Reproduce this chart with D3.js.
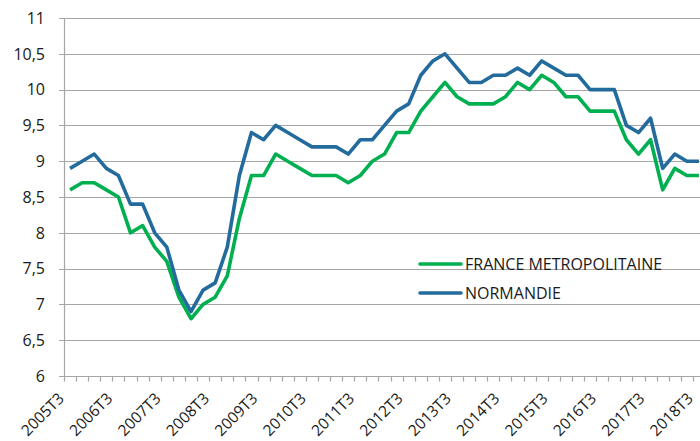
<!DOCTYPE html>
<html>
<head>
<meta charset="utf-8">
<script src="https://cdn.jsdelivr.net/npm/d3@7"></script>
<style>
  body { margin: 0; background: #fff; }
  svg { display: block; font-family: "Open Sans", sans-serif; }
</style>
</head>
<body>
<div id="chart"></div>
<script>
// quarters 2005T3 .. 2018T3
const quarters = [];
for (let y = 2005; y <= 2018; y++)
    for (let q = 1; q <= 4; q++)
        if (!(y === 2005 && q < 3) && !(y === 2018 && q > 3)) quarters.push(y + 'T' + q);

const france = [
    8.6, 8.7, 8.7, 8.6, 8.5, 8.0, 8.1, 7.8, 7.6, 7.1, 6.8, 7.0, 7.1, 7.4,
    8.2, 8.8, 8.8, 9.1, 9.0, 8.9, 8.8, 8.8, 8.8, 8.7, 8.8, 9.0, 9.1, 9.4,
    9.4, 9.7, 9.9, 10.1, 9.9, 9.8, 9.8, 9.8, 9.9, 10.1, 10.0, 10.2, 10.1, 9.9,
    9.9, 9.7, 9.7, 9.7, 9.3, 9.1, 9.3, 8.6, 8.9, 8.8, 8.8
];
const normandie = [
    8.9, 9.0, 9.1, 8.9, 8.8, 8.4, 8.4, 8.0, 7.8, 7.2, 6.9, 7.2, 7.3, 7.8,
    8.8, 9.4, 9.3, 9.5, 9.4, 9.3, 9.2, 9.2, 9.2, 9.1, 9.3, 9.3, 9.5, 9.7,
    9.8, 10.2, 10.4, 10.5, 10.3, 10.1, 10.1, 10.2, 10.2, 10.3, 10.2, 10.4, 10.3, 10.2,
    10.2, 10.0, 10.0, 10.0, 9.5, 9.4, 9.6, 8.9, 9.1, 9.0, 9.0
];
const yTicks = [6, 6.5, 7, 7.5, 8, 8.5, 9, 9.5, 10, 10.5, 11];

const series = [
    { name: 'FRANCE METROPOLITAINE', values: france, color: '#00b050' },
    { name: 'NORMANDIE', values: normandie, color: '#236b9c' }
];

const width = 700, height = 441;
const margin = { left: 64, top: 18, bottom: 65 };

const svg = d3.select('#chart').append('svg')
    .attr('width', width)
    .attr('height', height);

svg.append('rect').attr('width', width).attr('height', height).attr('fill', '#fff');

const x = d3.scaleBand()
    .domain(quarters)
    .range([margin.left, 705])
    .padding(0);

const y = d3.scaleLinear()
    .domain([6, 11])
    .range([height - margin.bottom, margin.top]);

const fmt = d => d3.format('.1~f')(d).replace('.', ',');

// grid lines
svg.append('g')
    .selectAll('line')
    .data(yTicks)
    .enter()
    .append('line')
    .attr('x1', margin.left - 5)
    .attr('x2', width)
    .attr('y1', d => Math.round(y(d)) + 0.5)
    .attr('y2', d => Math.round(y(d)) + 0.5)
    .attr('stroke', '#a6a6a6')
    .attr('stroke-width', 1.2);

// y axis line
svg.append('line')
    .attr('x1', margin.left + 0.5)
    .attr('x2', margin.left + 0.5)
    .attr('y1', y(11))
    .attr('y2', y(6))
    .attr('stroke', '#a6a6a6')
    .attr('stroke-width', 1.2);

// y labels
svg.append('g')
    .selectAll('text')
    .data(yTicks)
    .enter()
    .append('text')
    .attr('x', 45)
    .attr('y', d => y(d))
    .attr('dy', '0.36em')
    .attr('text-anchor', 'end')
    .attr('font-size', 16)
    .attr('fill', '#1a1a1a')
    .text(fmt);

// x ticks at category boundaries
const y0 = Math.round(y(6)) + 0.5;
svg.append('g')
    .selectAll('line')
    .data(quarters)
    .enter()
    .append('line')
    .attr('x1', d => Math.round(x(d)) + 0.5)
    .attr('x2', d => Math.round(x(d)) + 0.5)
    .attr('y1', y0)
    .attr('y2', y0 + 5)
    .attr('stroke', '#a6a6a6')
    .attr('stroke-width', 1.2);

// x labels, only third quarters
svg.append('g')
    .selectAll('text')
    .data(quarters.filter(q => q.endsWith('T3')))
    .enter()
    .append('text')
    .attr('transform', d => {
        const cx = x(d) + x.bandwidth() / 2;
        return `translate(${cx - 5},${y0 + 23}) rotate(-45)`;
    })
    .attr('text-anchor', 'end')
    .attr('font-size', 15.5)
    .attr('fill', '#1a1a1a')
    .text(d => d);

// lines
const line = d3.line()
    .x((d, i) => x(quarters[i]) + x.bandwidth() / 2)
    .y(d => y(d));

svg.append('g')
    .selectAll('path')
    .data(series)
    .enter()
    .append('path')
    .attr('d', d => line(d.values))
    .attr('fill', 'none')
    .attr('stroke', d => d.color)
    .attr('stroke-width', 3.6)
    .attr('stroke-linejoin', 'round');

// legend
const legend = svg.append('g')
    .selectAll('g')
    .data(series)
    .enter()
    .append('g')
    .attr('transform', (d, i) => `translate(420,${264 + i * 29})`);

legend.append('line')
    .attr('x1', 0)
    .attr('x2', 41)
    .attr('stroke', d => d.color)
    .attr('stroke-width', 3.6)
    .attr('stroke-linecap', 'round');

legend.append('text')
    .attr('x', 45)
    .attr('dy', '0.36em')
    .attr('font-size', 16)
    .attr('fill', '#1a1a1a')
    .text(d => d.name);
</script>
</body>
</html>
